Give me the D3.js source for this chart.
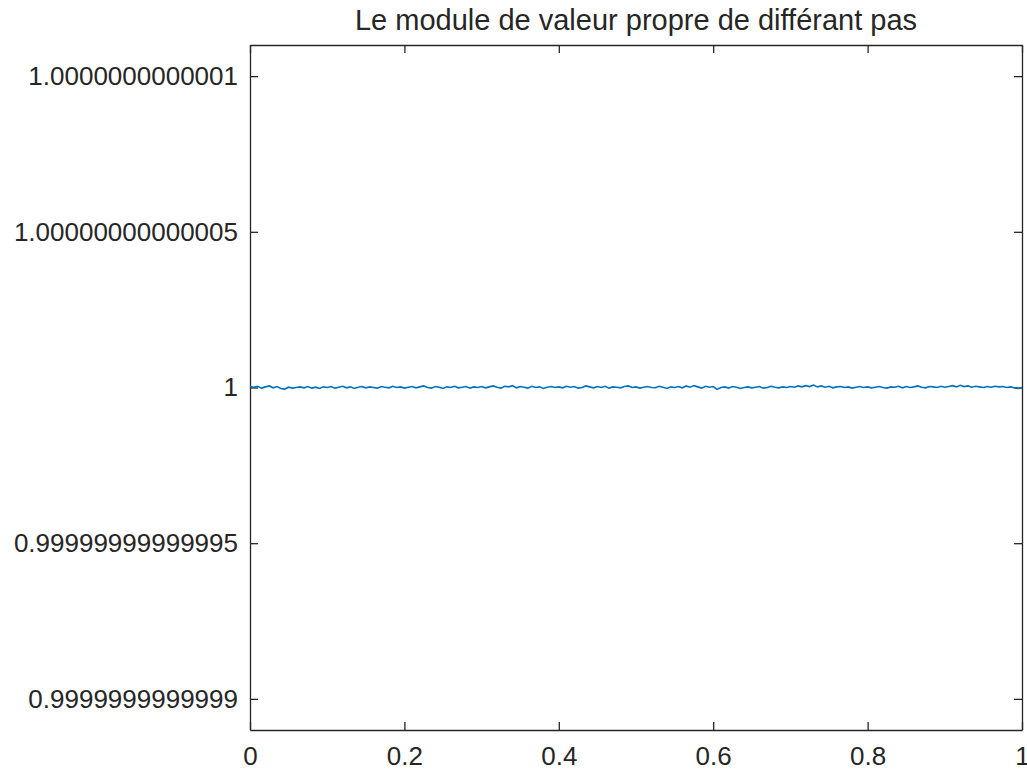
<!DOCTYPE html>
<html>
<head>
<meta charset="utf-8">
<script src="https://cdn.jsdelivr.net/npm/d3@7"></script>
<style>
  body { margin: 0; background: #fff; }
  text { font-family: "Liberation Sans", Arial, sans-serif; fill: #262626; }
</style>
</head>
<body>
<script>
// deviation of the eigenvalue modulus from 1, in units of 1e-15
let modulusDev = [
  0.3, 0.1, 0.4, -0.2, 0.2, 0.5, -0.1, 0.3, -0.3, -0.5, 0.1, -0.2, 0.0, 0.2, -0.1, 0.3, -0.2, 0.1, -0.3, 0.2,
  0.0, 0.3, -0.2, 0.1, 0.4, -0.1, 0.2, -0.3, 0.1, 0.3, -0.1, 0.2, 0.0, -0.2, 0.3, 0.1, -0.1, 0.4, 0.0, 0.2,
  -0.2, 0.1, 0.3, -0.1, 0.2, 0.5, 0.0, -0.2, 0.3, 0.1, -0.3, 0.2, 0.0, 0.4, -0.1, 0.1, 0.3, -0.2, 0.2, 0.0,
  0.3, -0.1, 0.2, 0.5, 0.1, -0.2, 0.4, 0.2, 0.6, -0.1, 0.3, 0.1, -0.2, 0.4, 0.0, 0.2, -0.3, 0.1, 0.3, 0.0,
  0.2, -0.1, 0.4, 0.1, 0.3, -0.2, 0.0, 0.5, 0.2, -0.1, 0.3, 0.0, 0.4, -0.2, 0.2, 0.1, -0.1, 0.3, 0.5, 0.0,
  0.2, -0.2, 0.1, 0.3, 0.0, -0.1, 0.4, 0.1, -0.3, 0.2, 0.0, 0.3, -0.1, 0.5, 0.1, 0.6, 0.2, -0.2, 0.4, 0.1,
  0.3, -0.6, 0.0, 0.2, -0.2, 0.3, 0.1, -0.3, 0.0, 0.2, -0.1, 0.1, 0.3, -0.2, 0.0, 0.4, 0.1, -0.1, 0.2, 0.0,
  0.3, 0.1, 0.5, 0.2, 0.6, 0.3, 0.8, 0.2, 0.5, 0.1, 0.4, -0.1, 0.2, 0.3, 0.0, 0.2, -0.2, 0.1, 0.3, 0.0,
  0.2, -0.1, 0.1, 0.3, 0.0, -0.2, 0.2, 0.1, 0.4, -0.1, 0.3, 0.0, 0.2, 0.5, 0.1, -0.1, 0.3, 0.2, 0.0, 0.4,
  0.1, 0.3, 0.6, 0.2, 0.7, 0.3, 0.5, 0.1, 0.4, 0.2, 0.0, 0.3, 0.1, 0.4, 0.2, 0.3, 0.0, 0.2, -0.1, -0.3, 0.0
];

let xTicks = [0, 0.2, 0.4, 0.6, 0.8, 1];
let xTickLabels = ["0", "0.2", "0.4", "0.6", "0.8", "1"];
// y ticks in the same 1e-15 units around 1
let yTicks = [-100, -50, 0, 50, 100];
let yTickLabels = ["0.9999999999999", "0.99999999999995", "1", "1.00000000000005", "1.0000000000001"];
let yDomain = [-110, 110];
let chartTitle = "Le module de valeur propre de différant pas";

let svgWidth = 1027, svgHeight = 771;
let margin = { top: 45, right: 5, bottom: 41, left: 250 };
let chartWidth = svgWidth - margin.left - margin.right;
let chartHeight = svgHeight - margin.top - margin.bottom;

let svg = d3.select("body").append("svg")
  .attr("width", svgWidth)
  .attr("height", svgHeight);

let chartGroup = svg.append("g")
  .attr("transform", `translate(${margin.left}, ${margin.top})`);

let xScale = d3.scaleLinear().domain([0, 1]).range([0, chartWidth]);
let yScale = d3.scaleLinear().domain(yDomain).range([chartHeight, 0]);

// axes, MATLAB style: ticks point inwards, mirrored on the box
let tickLen = 8;
let axisColor = "#262626";

let bottomAxis = d3.axisBottom(xScale).tickValues(xTicks)
  .tickFormat((d, i) => xTickLabels[i]).tickSizeInner(-tickLen).tickSizeOuter(0).tickPadding(17);
let topAxis = d3.axisTop(xScale).tickValues(xTicks)
  .tickFormat("").tickSizeInner(-tickLen).tickSizeOuter(0);
let leftAxis = d3.axisLeft(yScale).tickValues(yTicks)
  .tickFormat((d, i) => yTickLabels[i]).tickSizeInner(-tickLen).tickSizeOuter(0).tickPadding(12);
let rightAxis = d3.axisRight(yScale).tickValues(yTicks)
  .tickFormat("").tickSizeInner(-tickLen).tickSizeOuter(0);

function styleAxis(g) {
  g.select(".domain").attr("stroke", axisColor).attr("stroke-width", 1.3);
  g.selectAll(".tick line").attr("stroke", axisColor).attr("stroke-width", 1.3);
  g.selectAll(".tick text")
    .attr("fill", axisColor)
    .style("font-family", "'Liberation Sans', Arial, sans-serif")
    .style("font-size", "26px");
}

chartGroup.append("g").attr("transform", `translate(0, ${chartHeight})`).call(bottomAxis).call(styleAxis);
chartGroup.append("g").call(topAxis).call(styleAxis);
chartGroup.append("g").call(leftAxis).call(styleAxis);
chartGroup.append("g").attr("transform", `translate(${chartWidth}, 0)`).call(rightAxis).call(styleAxis);

// the data line
let n = modulusDev.length;
let line = d3.line()
  .x((d, i) => xScale(i / (n - 1)))
  .y(d => yScale(d));

chartGroup.append("path")
  .attr("d", line(modulusDev))
  .attr("fill", "none")
  .attr("stroke", "#0072BD")
  .attr("stroke-width", 1.6);

// title
svg.append("text")
  .attr("x", margin.left + chartWidth / 2)
  .attr("y", 30)
  .attr("text-anchor", "middle")
  .style("font-size", "29px")
  .attr("fill", "#000")
  .text(chartTitle);
</script>
</body>
</html>
